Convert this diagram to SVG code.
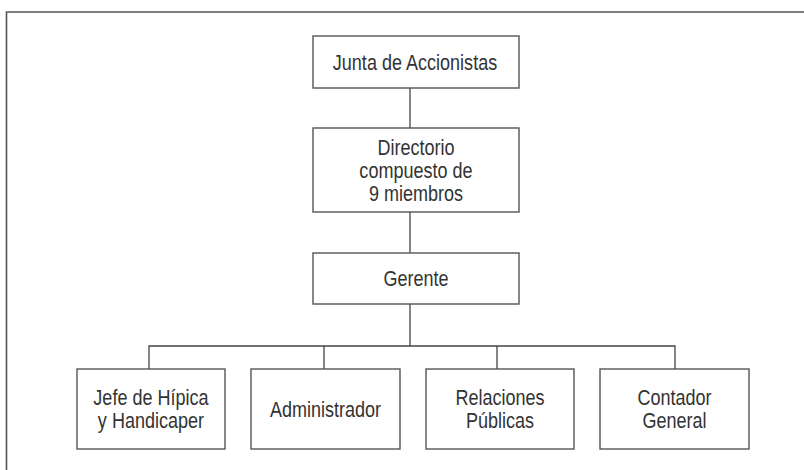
<svg xmlns="http://www.w3.org/2000/svg" width="804" height="470" viewBox="0 0 804 470">
<style>
.box{fill:#fff;stroke:#555;stroke-width:1.4}
.ln{fill:none;stroke:#444;stroke-width:1.3}
.t{font-family:"Liberation Sans",Arial,sans-serif;font-size:22px;fill:#333;text-anchor:middle}
</style>
<rect width="804" height="470" fill="#fff"/>
<path d="M6.5,470 V12 H804" fill="none" stroke="#555" stroke-width="1.6"/>
<g id="connectors">
<path class="ln" d="M410,88 V128"/>
<path class="ln" d="M410,212 V253"/>
<path class="ln" d="M410,304 V346"/>
<path class="ln" d="M149,369 V346 H675 V369"/>
<path class="ln" d="M324,346 V369"/>
<path class="ln" d="M497,346 V369"/>
</g>
<g id="junta">
<rect class="box" x="313" y="36" width="206" height="52"/>
<text class="t" transform="translate(415,70) scale(0.82,1)">Junta de Accionistas</text>
</g>
<g id="directorio">
<rect class="box" x="313" y="128" width="206" height="84"/>
<text class="t" transform="translate(416,155) scale(0.82,1)">Directorio</text>
<text class="t" transform="translate(416,178) scale(0.82,1)">compuesto de</text>
<text class="t" transform="translate(416,201) scale(0.82,1)">9 miembros</text>
</g>
<g id="gerente">
<rect class="box" x="313" y="253" width="206" height="51"/>
<text class="t" transform="translate(416,286) scale(0.82,1)">Gerente</text>
</g>
<g id="jefe">
<rect class="box" x="77" y="369" width="148" height="80"/>
<text class="t" transform="translate(151,404.5) scale(0.82,1)">Jefe de Hípica</text>
<text class="t" transform="translate(151,427.5) scale(0.82,1)">y Handicaper</text>
</g>
<g id="administrador">
<rect class="box" x="251" y="369" width="149" height="80"/>
<text class="t" transform="translate(325.5,416.5) scale(0.82,1)">Administrador</text>
</g>
<g id="relaciones">
<rect class="box" x="426" y="369" width="148" height="80"/>
<text class="t" transform="translate(500,404.5) scale(0.82,1)">Relaciones</text>
<text class="t" transform="translate(500,427.5) scale(0.82,1)">Públicas</text>
</g>
<g id="contador">
<rect class="box" x="600" y="369" width="149" height="80"/>
<text class="t" transform="translate(674.5,404.5) scale(0.82,1)">Contador</text>
<text class="t" transform="translate(674.5,427.5) scale(0.82,1)">General</text>
</g>
</svg>
